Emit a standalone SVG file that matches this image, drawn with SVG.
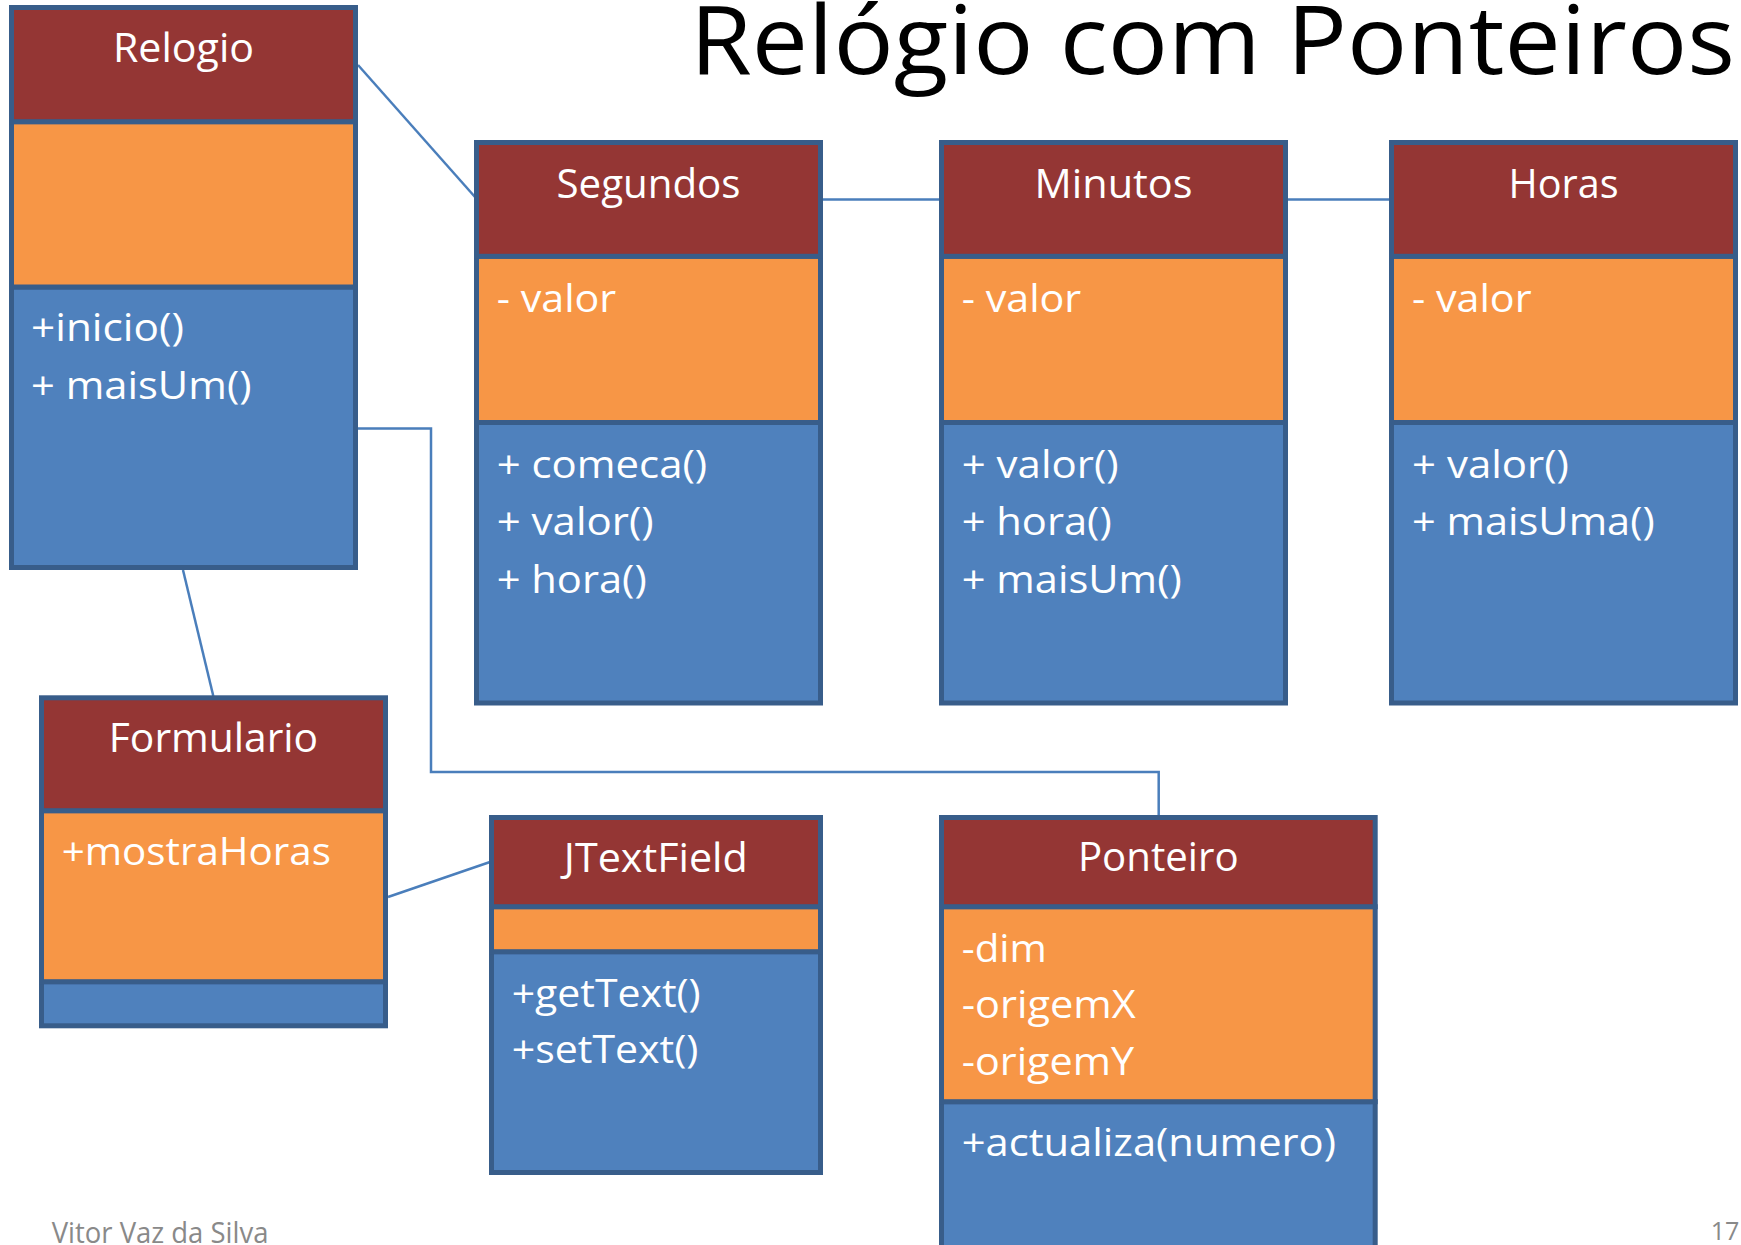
<svg xmlns="http://www.w3.org/2000/svg" width="1741" height="1245" viewBox="0 0 1741 1245">
<style>
.hd{fill:#943634;stroke:#385D8A;stroke-width:5}
.at{fill:#F79646;stroke:#385D8A;stroke-width:5}
.mt{fill:#4F81BD;stroke:#385D8A;stroke-width:5}
.t{font-family:"Open Sans","Noto Sans","DejaVu Sans",sans-serif;fill:#FFFFFF}
.h{font-size:41px;text-anchor:middle}
.b{font-size:38px}
.c{fill:none;stroke:#4A7EBB;stroke-width:2.5}
.title{font-family:"Open Sans","Noto Sans","DejaVu Sans",sans-serif;font-size:95px;fill:#000000}
.ft{font-family:"Open Sans","Noto Sans","DejaVu Sans",sans-serif;fill:#898989}
</style>
<rect width="1741" height="1245" fill="#FFFFFF"/>
<text class="title" x="690" y="74" textLength="1045" lengthAdjust="spacingAndGlyphs">Relógio com Ponteiros</text>
<g id="connectors">
<line class="c" x1="358" y1="65" x2="475" y2="197"/>
<line class="c" x1="823" y1="199.5" x2="939" y2="199.5"/>
<line class="c" x1="1288" y1="199.5" x2="1389" y2="199.5"/>
<polyline class="c" points="358,428.6 431,428.6 431,772 1158.7,772 1158.7,815"/>
<line class="c" x1="183" y1="570" x2="213.3" y2="696"/>
<line class="c" x1="388" y1="897" x2="490" y2="862"/>
</g>
<g id="relogio">
<rect class="mt" x="11.5" y="287" width="344" height="280.5"/>
<rect class="at" x="11.5" y="121.7" width="344" height="165.3"/>
<rect class="hd" x="11.5" y="7.5" width="344" height="114.2"/>
<text class="t h" x="183.5" y="61.5" textLength="141" lengthAdjust="spacingAndGlyphs">Relogio</text>
<text class="t b" x="31" y="340.6" textLength="153" lengthAdjust="spacingAndGlyphs">+inicio()</text>
<text class="t b" x="31" y="398.8" textLength="220.5" lengthAdjust="spacingAndGlyphs">+ maisUm()</text>
</g>
<g id="segundos">
<rect class="mt" x="476.5" y="422.5" width="344" height="280.5"/>
<rect class="at" x="476.5" y="256.3" width="344" height="166.2"/>
<rect class="hd" x="476.5" y="142.5" width="344" height="113.8"/>
<text class="t h" x="648.5" y="197.7" textLength="184" lengthAdjust="spacingAndGlyphs">Segundos</text>
<text class="t b" x="496.7" y="311.5" textLength="119.5" lengthAdjust="spacingAndGlyphs">- valor</text>
<text class="t b" x="496.7" y="477.7" textLength="210.5" lengthAdjust="spacingAndGlyphs">+ comeca()</text>
<text class="t b" x="496.7" y="535" textLength="157" lengthAdjust="spacingAndGlyphs">+ valor()</text>
<text class="t b" x="496.7" y="592.5" textLength="150" lengthAdjust="spacingAndGlyphs">+ hora()</text>
</g>
<g id="minutos">
<rect class="mt" x="941.5" y="422.5" width="344" height="280.5"/>
<rect class="at" x="941.5" y="256.3" width="344" height="166.2"/>
<rect class="hd" x="941.5" y="142.5" width="344" height="113.8"/>
<text class="t h" x="1113.5" y="197.7" textLength="158" lengthAdjust="spacingAndGlyphs">Minutos</text>
<text class="t b" x="961.7" y="311.5" textLength="119.5" lengthAdjust="spacingAndGlyphs">- valor</text>
<text class="t b" x="961.7" y="477.7" textLength="157" lengthAdjust="spacingAndGlyphs">+ valor()</text>
<text class="t b" x="961.7" y="535" textLength="150" lengthAdjust="spacingAndGlyphs">+ hora()</text>
<text class="t b" x="961.7" y="592.5" textLength="220" lengthAdjust="spacingAndGlyphs">+ maisUm()</text>
</g>
<g id="horas">
<rect class="mt" x="1391.5" y="422.5" width="344" height="280.5"/>
<rect class="at" x="1391.5" y="256.3" width="344" height="166.2"/>
<rect class="hd" x="1391.5" y="142.5" width="344" height="113.8"/>
<text class="t h" x="1563.5" y="197.7" textLength="110" lengthAdjust="spacingAndGlyphs">Horas</text>
<text class="t b" x="1412" y="311.5" textLength="119.5" lengthAdjust="spacingAndGlyphs">- valor</text>
<text class="t b" x="1412" y="477.7" textLength="157" lengthAdjust="spacingAndGlyphs">+ valor()</text>
<text class="t b" x="1412" y="535" textLength="242.7" lengthAdjust="spacingAndGlyphs">+ maisUma()</text>
</g>
<g id="formulario">
<rect class="mt" x="41.5" y="981.7" width="344" height="44.1"/>
<rect class="at" x="41.5" y="810.7" width="344" height="171"/>
<rect class="hd" x="41.5" y="697.8" width="344" height="112.9"/>
<text class="t h" x="213.5" y="751.7" textLength="209.3" lengthAdjust="spacingAndGlyphs">Formulario</text>
<text class="t b" x="61.7" y="865" textLength="269.3" lengthAdjust="spacingAndGlyphs">+mostraHoras</text>
</g>
<g id="jtextfield">
<rect class="mt" x="491.5" y="951.7" width="329" height="220.8"/>
<rect class="at" x="491.5" y="906.7" width="329" height="45"/>
<rect class="hd" x="491.5" y="817.5" width="329" height="89.2"/>
<text class="t h" x="655.8" y="871.7" textLength="184" lengthAdjust="spacingAndGlyphs">JTextField</text>
<text class="t b" x="511.7" y="1006.7" textLength="189" lengthAdjust="spacingAndGlyphs">+getText()</text>
<text class="t b" x="511.7" y="1062.7" textLength="186.7" lengthAdjust="spacingAndGlyphs">+setText()</text>
</g>
<g id="ponteiro">
<rect class="mt" x="941.5" y="1101.7" width="433.7" height="160"/>
<rect class="at" x="941.5" y="906.7" width="433.7" height="195"/>
<rect class="hd" x="941.5" y="817.5" width="433.7" height="89.2"/>
<text class="t h" x="1158.3" y="871" textLength="160.7" lengthAdjust="spacingAndGlyphs">Ponteiro</text>
<text class="t b" x="961.7" y="961.7" textLength="85" lengthAdjust="spacingAndGlyphs">-dim</text>
<text class="t b" x="961.7" y="1018.3" textLength="174" lengthAdjust="spacingAndGlyphs">-origemX</text>
<text class="t b" x="961.7" y="1075" textLength="172.3" lengthAdjust="spacingAndGlyphs">-origemY</text>
<text class="t b" x="961.7" y="1156" textLength="374.3" lengthAdjust="spacingAndGlyphs">+actualiza(numero)</text>
</g>
<text class="ft" x="51.7" y="1243" font-size="30" textLength="216.7" lengthAdjust="spacingAndGlyphs">Vitor Vaz da Silva</text>
<text class="ft" x="1710.7" y="1240" font-size="26" textLength="28.7" lengthAdjust="spacingAndGlyphs">17</text>
</svg>
